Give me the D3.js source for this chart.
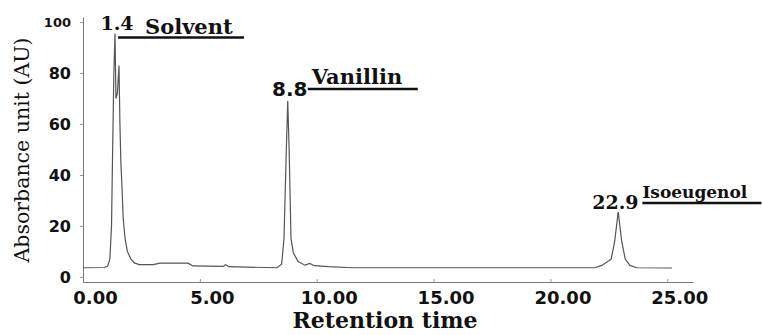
<!DOCTYPE html>
<html lang="en">
<head>
    <meta charset="UTF-8">
    <script src="https://cdn.jsdelivr.net/npm/d3@7"></script>
    <title>Chromatogram</title>
    <style>
        body { margin: 0; background: #fff; }
        .tick text { font-family: "DejaVu Sans", sans-serif; font-weight: bold; fill: #111; }
        .serif { font-family: "DejaVu Serif", serif; fill: #111; }
    </style>
</head>
<body>
    <svg id="chart" width="762" height="335"></svg>
    <script>
        // retention time (min) and absorbance (AU)
        const times = [0, 0.9, 1.05, 1.15, 1.22, 1.26, 1.32, 1.37, 1.41, 1.47, 1.54, 1.58, 1.62, 1.67, 1.72, 1.8, 1.9, 2.05, 2.2, 2.4,
            3.0, 3.3, 4.5, 4.7, 6.0, 6.1, 6.25, 8.3, 8.5, 8.6, 8.7, 8.76, 8.82, 8.9, 9.0, 9.2, 9.5, 9.7, 9.9, 10.5, 11.5,
            20.5, 21.9, 22.2, 22.45, 22.6, 22.75, 22.9, 23.05, 23.2, 23.4, 23.7, 25.2];
        const absorbance = [3.6, 3.7, 4.2, 7, 20, 45, 80, 95.5, 70, 72, 83, 60, 45, 35, 23, 15, 10, 7, 5.5, 4.8,
            4.8, 5.4, 5.4, 4.3, 4.1, 4.8, 4.0, 3.6, 5, 15, 50, 69, 50, 15, 9.5, 6, 4.6, 5.3, 4.4, 4.0, 3.6,
            3.6, 3.6, 4.5, 6, 7, 14, 25.5, 14, 7, 4.5, 3.6, 3.5];
        const xTicks = [0, 5, 10, 15, 20, 25];
        const yTicks = [0, 20, 40, 60, 80, 100];
        const peakTimes = [1.37, 8.76, 22.95];
        const peakTops = [95.5, 69, 25.5];
        const peakLabels = ["1.4", "8.8", "22.9"];
        const peakNames = ["Solvent", "Vanillin", "Isoeugenol"];

        const svg = d3.select("#chart");
        const x = d3.scaleLinear().domain([0, 26.1]).range([83, 693]);
        const y = d3.scaleLinear().domain([-2, 102]).range([282, 17]);

        svg.append("g").attr("transform", "translate(0,282)")
            .call(d3.axisBottom(x).tickValues(xTicks).tickFormat(d3.format(".2f")).tickSize(-3).tickPadding(17).tickSizeOuter(0))
            .call(g => g.select(".domain").attr("stroke", "#777"))
            .call(g => g.selectAll(".tick line").attr("stroke", "#999"))
            .call(g => g.selectAll(".tick text").attr("font-size", 18).attr("dx", 12).attr("dy", "0.3em"));

        svg.append("g").attr("transform", "translate(83,0)")
            .call(d3.axisLeft(y).tickValues(yTicks).tickSize(3).tickPadding(9).tickSizeOuter(0))
            .call(g => g.select(".domain").attr("stroke", "#777"))
            .call(g => g.selectAll(".tick line").attr("stroke", "#999"))
            .call(g => g.selectAll(".tick text").attr("font-size", d => d === 100 ? 13 : 16));

        const line = d3.line().x((d, i) => x(times[i])).y(d => y(d));
        svg.append("path").datum(absorbance)
            .attr("fill", "none").attr("stroke", "#555").attr("stroke-width", 1.2)
            .attr("d", line);

        // peak annotations
        const numStyle = [
            { dx: 2, dy: -4, font: "DejaVu Serif", size: 19 },
            { dx: 2, dy: -5, font: "DejaVu Sans", size: 20 },
            { dx: -4, dy: -3, font: "DejaVu Serif", size: 19 }
        ];
        const nameStyle = [
            { dx: 30, lineStart: 3, lineEnd: 129, textY: 0, lineY: 4, size: 21 },
            { dx: 24, lineStart: 20, lineEnd: 130, textY: -17, lineY: -12, size: 21 },
            { dx: 23, lineStart: 23, lineEnd: 142, textY: -14, lineY: -9, size: 17 }
        ];
        peakTimes.forEach((t, i) => {
            const px = x(t), py = y(peakTops[i]);
            svg.append("text").attr("class", "serif")
                .attr("x", px + numStyle[i].dx).attr("y", py + numStyle[i].dy)
                .attr("text-anchor", "middle")
                .style("font-family", numStyle[i].font).style("font-weight", "bold")
                .attr("font-size", numStyle[i].size).text(peakLabels[i]);
            const n = nameStyle[i];
            svg.append("text").attr("class", "serif")
                .attr("x", px + n.dx).attr("y", py + n.textY)
                .style("font-weight", "bold").attr("font-size", n.size).text(peakNames[i]);
            svg.append("line")
                .attr("x1", px + n.lineStart).attr("x2", px + n.lineEnd)
                .attr("y1", py + n.lineY).attr("y2", py + n.lineY)
                .attr("stroke", "#111").attr("stroke-width", 2.5);
        });

        svg.append("text").attr("class", "serif")
            .attr("transform", "translate(29,150) rotate(-90)")
            .attr("text-anchor", "middle").attr("font-size", 20.5)
            .text("Absorbance unit (AU)");

        svg.append("text").attr("class", "serif")
            .attr("x", 385).attr("y", 328).attr("text-anchor", "middle")
            .style("font-weight", "bold").attr("font-size", 22)
            .text("Retention time");
    </script>
</body>
</html>
